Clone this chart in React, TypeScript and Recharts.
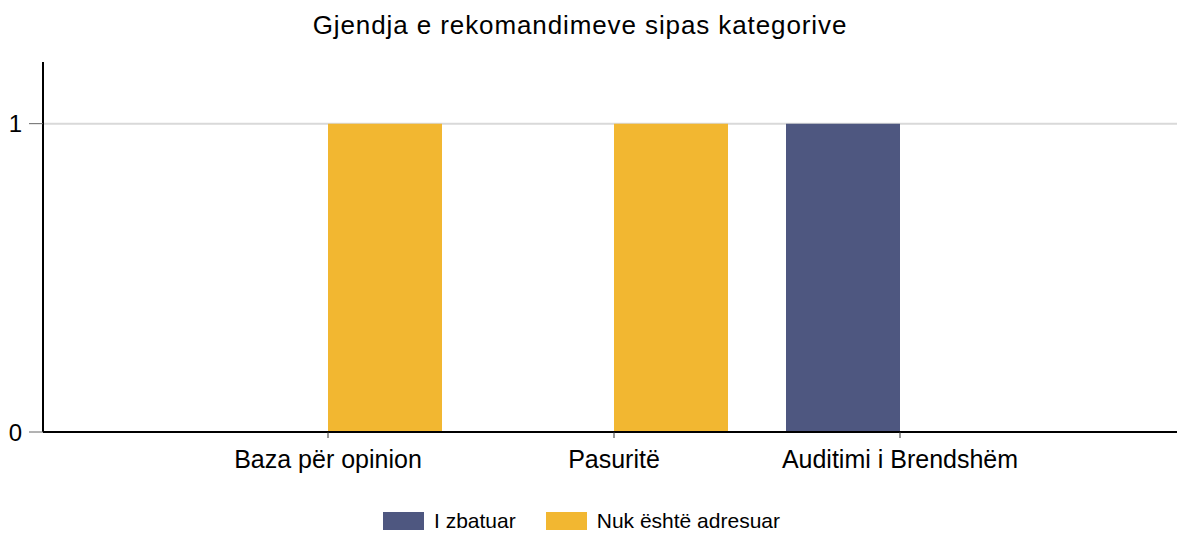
import React from 'react';
import {
  BarChart,
  Bar,
  XAxis,
  YAxis,
  CartesianGrid,
} from 'recharts';

// categories and series values
const CATEGORIES = ['Baza për opinion', 'Pasuritë', 'Auditimi i Brendshëm'];
const I_ZBATUAR = [0, 0, 1];
const NUK_ADRESUAR = [1, 1, 0];
const Y_TICKS = [0, 1];

const SERIES = [
  { key: 'zbatuar', name: 'I zbatuar', color: '#4e5780' },
  { key: 'nuk', name: 'Nuk është adresuar', color: '#f2b731' },
];

const data = CATEGORIES.map((name, i) => ({
  name,
  zbatuar: I_ZBATUAR[i],
  nuk: NUK_ADRESUAR[i],
}));

const FONT = '"Liberation Sans", Arial, sans-serif';

export default function App() {
  return (
    <div
      style={{
        position: 'relative',
        width: 1177,
        height: 533,
        background: '#fff',
        fontFamily: FONT,
        overflow: 'hidden',
      }}
    >
      <style>{'html,body{margin:0;padding:0;overflow:hidden;}'}</style>

      {/* title */}
      <div
        style={{
          position: 'absolute',
          left: 0,
          top: 12,
          width: 1160,
          textAlign: 'center',
          fontSize: 26,
          letterSpacing: 0.9,
          lineHeight: '26px',
          color: '#000',
        }}
      >
        Gjendja e rekomandimeve sipas kategorive
      </div>

      <BarChart
        width={1177}
        height={533}
        data={data}
        margin={{ top: 62, right: 0, bottom: 71, left: 0 }}
        barGap={0}
      >
        <CartesianGrid
          vertical={false}
          horizontalValues={Y_TICKS.filter((v) => v > 0)}
          stroke="#d9d9d9"
          strokeWidth={2}
        />
        <XAxis
          dataKey="name"
          height={30}
          padding={{ left: 142, right: 134 }}
          axisLine={{ stroke: '#000', strokeWidth: 2 }}
          tickLine={{ stroke: '#333' }}
          tickSize={6}
          tickMargin={12}
          tick={{ fill: '#000', fontSize: 25, fontFamily: FONT }}
          interval={0}
        />
        <YAxis
          width={43}
          domain={[0, 1.2]}
          ticks={Y_TICKS}
          allowDecimals={false}
          axisLine={{ stroke: '#000', strokeWidth: 2 }}
          tickLine={{ stroke: '#666' }}
          tickSize={14}
          tickMargin={7}
          tick={{ fill: '#000', fontSize: 24, fontFamily: FONT }}
        />
        {SERIES.map((s) => (
          <Bar
            key={s.key}
            dataKey={s.key}
            name={s.name}
            fill={s.color}
            barSize={114}
            isAnimationActive={false}
          />
        ))}
      </BarChart>

      {/* legend */}
      <div
        style={{
          position: 'absolute',
          left: 383,
          top: 509,
          display: 'flex',
          alignItems: 'center',
          fontSize: 21,
          lineHeight: '24px',
          color: '#000',
        }}
      >
        {SERIES.map((s, i) => (
          <div
            key={s.key}
            style={{
              display: 'flex',
              alignItems: 'center',
              marginRight: i === 0 ? 30 : 0,
            }}
          >
            <div
              style={{
                width: 41,
                height: 18,
                background: s.color,
                marginRight: 10,
              }}
            />
            <span>{s.name}</span>
          </div>
        ))}
      </div>
    </div>
  );
}
